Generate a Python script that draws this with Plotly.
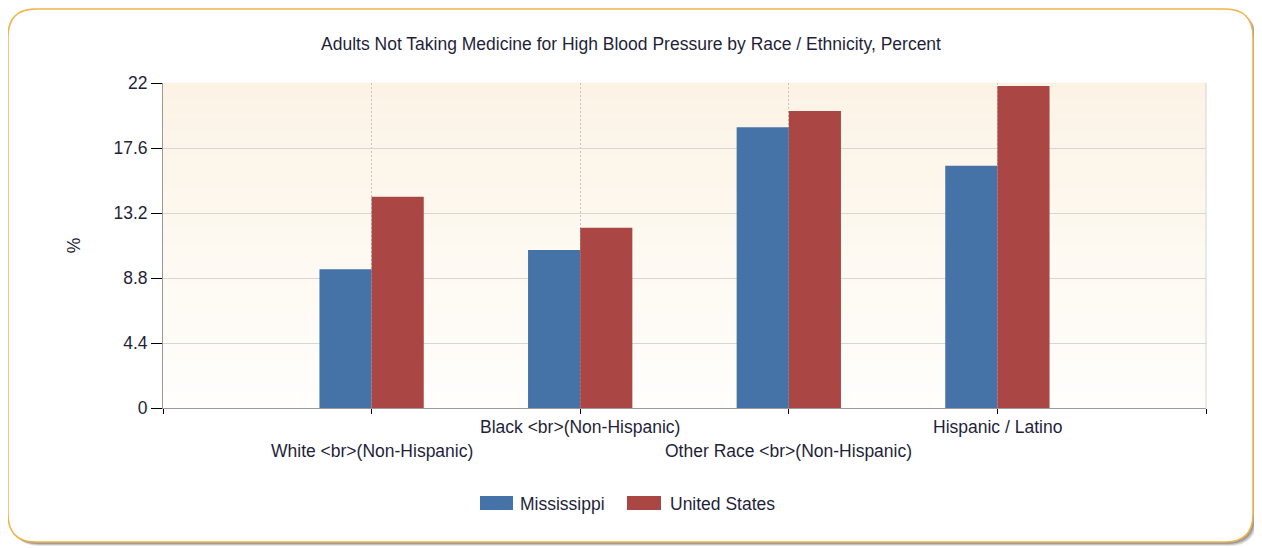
import plotly.graph_objects as go

# ---- data ----
categories = ["White &lt;br&gt;(Non-Hispanic)", "Black &lt;br&gt;(Non-Hispanic)",
              "Other Race &lt;br&gt;(Non-Hispanic)", "Hispanic / Latino"]
cat_pos = [1, 2, 3, 4]
mississippi = [9.4, 10.7, 19.0, 16.4]
united_states = [14.3, 12.2, 20.1, 21.8]
y_ticks = [0, 4.4, 8.8, 13.2, 17.6, 22]
y_ticklabels = ["0", "4.4", "8.8", "13.2", "17.6", "22"]
title = "Adults Not Taking Medicine for High Blood Pressure by Race / Ethnicity, Percent"
series_colors = ["#4572A7", "#AA4643"]

FONT = "Liberation Sans"
FS = 17.5
TXT = "#1f1f3a"
OFF = 8  # page body margin
W, H = 1262 - OFF, 548 - OFF
L, T = 163 - OFF, 83 - OFF
R = W - (1206 - OFF)
B = H - (408 - OFF)
PW, PH = W - L - R, H - T - B


def px(xp):
    return (xp - OFF - L) / PW


def py(yp):
    return (T + PH - (yp - OFF)) / PH


def rrect(x0, y0, x1, y1, r):
    pts = [
        f"M {px(x0 + r)},{py(y0)}",
        f"L {px(x1 - r)},{py(y0)}",
        f"Q {px(x1)},{py(y0)} {px(x1)},{py(y0 + r)}",
        f"L {px(x1)},{py(y1 - r)}",
        f"Q {px(x1)},{py(y1)} {px(x1 - r)},{py(y1)}",
        f"L {px(x0 + r)},{py(y1)}",
        f"Q {px(x0)},{py(y1)} {px(x0)},{py(y1 - r)}",
        f"L {px(x0)},{py(y0 + r)}",
        f"Q {px(x0)},{py(y0)} {px(x0 + r)},{py(y0)}",
        "Z",
    ]
    return " ".join(pts)


fig = go.Figure()
fig.add_trace(go.Bar(x=cat_pos, y=mississippi, name="Mississippi",
                     marker=dict(color=series_colors[0], line=dict(width=0))))
fig.add_trace(go.Bar(x=cat_pos, y=united_states, name="United States",
                     marker=dict(color=series_colors[1], line=dict(width=0))))

shapes = []
# frame shadow + frame
for off, col in [(4, "rgba(0,0,0,0.10)"), (3, "rgba(0,0,0,0.15)"), (2, "rgba(0,0,0,0.2)")]:
    shapes.append(dict(type="path", xref="paper", yref="paper", layer="below",
                       path=rrect(8 + off, 9 + off, 1253 + off, 542 + off, 28),
                       fillcolor=col, line=dict(width=0)))
shapes.append(dict(type="path", xref="paper", yref="paper", layer="below",
                   path=rrect(8, 9, 1253, 542, 28),
                   fillcolor="white", line=dict(color="#EFB447", width=1.5)))
# gradient plot background
n = 40
c0 = (252, 243, 229)
c1 = (255, 254, 252)
for i in range(n):
    t = i / (n - 1)
    c = tuple(round(c0[k] + (c1[k] - c0[k]) * t) for k in range(3))
    shapes.append(dict(type="rect", xref="x domain", yref="y domain", layer="below",
                       x0=0, x1=1, y0=1 - (i + 1) / n, y1=1 - i / n + 0.001,
                       fillcolor=f"rgb{c}", line=dict(width=0)))
# right border line of plot area
shapes.append(dict(type="line", xref="x domain", yref="y domain", x0=1, x1=1, y0=0, y1=1,
                   line=dict(color="#D4D4D4", width=1)))
# wide legend swatches (drawn around the legend's own small icons)
for (sx0, sx1), col in zip([(480, 513), (627, 661)], series_colors):
    shapes.append(dict(type="rect", xref="paper", yref="paper", layer="above",
                       x0=px(sx0), x1=px(sx1), y0=py(510), y1=py(496),
                       fillcolor=col, line=dict(width=0)))

annotations = []
for i, (xp, lab) in enumerate(zip(cat_pos, categories)):
    row = 1 if i % 2 == 0 else 0
    annotations.append(dict(x=xp, y=0, xref="x", yref="paper", text=lab, showarrow=False,
                            xanchor="center", yanchor="middle",
                            yshift=-(19 + 24 * row),
                            font=dict(family=FONT, size=FS, color=TXT)))

fig.update_layout(
    width=W, height=H,
    margin=dict(l=L, r=R, t=T, b=B, autoexpand=False),
    paper_bgcolor="white",
    plot_bgcolor="rgba(0,0,0,0)",
    title=dict(text=title, x=(631 - OFF) / W, xref="container", xanchor="center",
               y=1 - (44 - OFF) / H, yanchor="middle",
               font=dict(family=FONT, size=FS, color=TXT)),
    barmode="group", bargap=0.5, bargroupgap=0,
    shapes=shapes,
    annotations=annotations,
    showlegend=True,
    legend=dict(orientation="h", x=px(480), xanchor="left",
                y=py(503), yanchor="middle", entrywidth=105, entrywidthmode="pixels",
                font=dict(family=FONT, size=FS, color=TXT),
                bgcolor="rgba(0,0,0,0)"),
    xaxis=dict(range=[0, 5], tickvals=[0, 1, 2, 3, 4, 5], ticktext=[""] * 6,
               ticks="outside", ticklen=5, tickcolor="#000", tickwidth=1,
               showline=True, linecolor="#999999", linewidth=1,
               showgrid=True, gridcolor="#C4C4C4", griddash="2px,2px", gridwidth=1,
               zeroline=False, fixedrange=True),
    yaxis=dict(range=[0, 22], tickvals=y_ticks, ticktext=y_ticklabels,
               ticks="outside", ticklen=11, tickcolor="#000", tickwidth=1,
               showline=True, linecolor="#999999", linewidth=1,
               showgrid=True, gridcolor="#D6D6D6", gridwidth=1, zeroline=False,
               tickfont=dict(family=FONT, size=FS, color=TXT),
               title=dict(text="%", standoff=28, font=dict(family=FONT, size=FS, color=TXT))),
)

fig.write_html("out.html")
